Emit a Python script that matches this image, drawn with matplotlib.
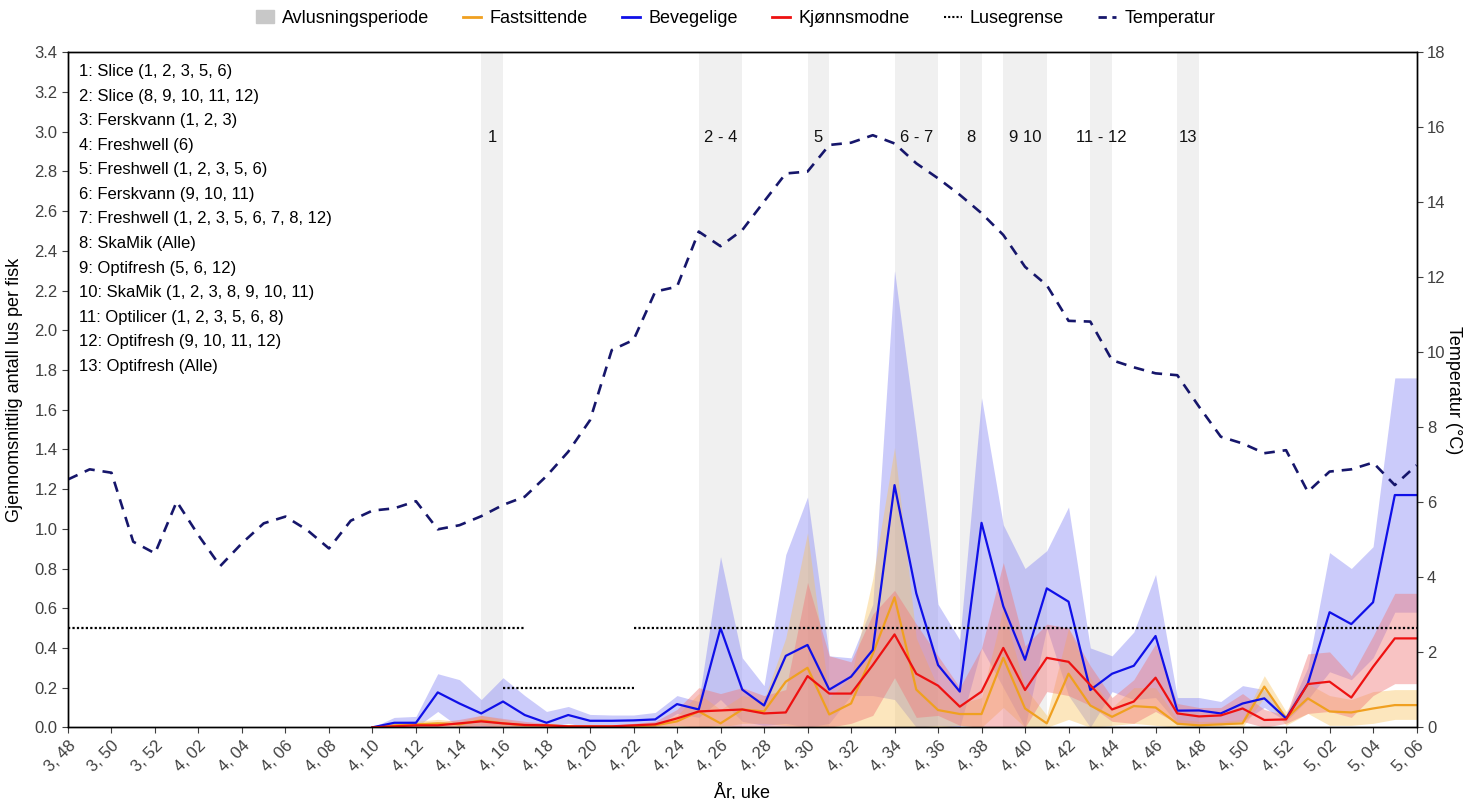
import numpy as np
import matplotlib.pyplot as plt
from matplotlib.lines import Line2D
from matplotlib.patches import Patch

plt.rcParams['font.family'] = ['Liberation Sans', 'DejaVu Sans']

# år og uke (kategorier langs x)
years = [3] * 5 + [4] * 52 + [5] * 6
weeks = list(range(48, 53)) + list(range(1, 53)) + list(range(1, 7))
week_labels = [f"{y}, {w:02d}" for y, w in zip(years, weeks)]

# ingen lusedata før uke 4,10
pad = [np.nan] * 14

fastsittende = pad + [
    0.0, 0.01, 0.015, 0.02, 0.015, 0.035, 0.02, 0.01, 0.01, 0.005,
    0.005, 0.005, 0.005, 0.01, 0.03, 0.08, 0.02, 0.09, 0.08, 0.23,
    0.30, 0.065, 0.12, 0.37, 0.655, 0.19, 0.087, 0.067, 0.067, 0.35,
    0.095, 0.02, 0.27, 0.11, 0.053, 0.107, 0.10, 0.018, 0.01, 0.015,
    0.02, 0.205, 0.045, 0.146, 0.08, 0.075, 0.095, 0.112, 0.112]
fastsittende_hi = pad + [
    0.0, 0.02, 0.03, 0.04, 0.03, 0.06, 0.04, 0.02, 0.02, 0.01,
    0.01, 0.01, 0.01, 0.02, 0.06, 0.17, 0.09, 0.16, 0.14, 0.45,
    0.98, 0.15, 0.25, 0.75, 1.41, 0.45, 0.20, 0.12, 0.15, 0.60,
    0.20, 0.06, 0.50, 0.25, 0.10, 0.20, 0.20, 0.04, 0.03, 0.03,
    0.04, 0.26, 0.08, 0.22, 0.16, 0.14, 0.18, 0.19, 0.19]
fastsittende_lo = pad + [
    0.0, 0.0, 0.0, 0.0, 0.0, 0.01, 0.0, 0.0, 0.0, 0.0,
    0.0, 0.0, 0.0, 0.0, 0.0, 0.0, 0.0, 0.02, 0.02, 0.01,
    0.0, 0.0, 0.0, 0.0, 0.0, 0.0, 0.0, 0.01, 0.0, 0.1,
    0.0, 0.0, 0.04, 0.0, 0.01, 0.02, 0.01, 0.0, 0.0, 0.0,
    0.0, 0.15, 0.01, 0.07, 0.01, 0.01, 0.02, 0.04, 0.04]

bevegelige = pad + [
    0.0, 0.023, 0.023, 0.176, 0.12, 0.07, 0.13, 0.062, 0.023, 0.062,
    0.033, 0.033, 0.035, 0.04, 0.117, 0.09, 0.50, 0.19, 0.11, 0.36,
    0.415, 0.19, 0.255, 0.39, 1.22, 0.675, 0.314, 0.18, 1.03, 0.61,
    0.34, 0.70, 0.633, 0.188, 0.27, 0.31, 0.46, 0.084, 0.085, 0.07,
    0.12, 0.146, 0.045, 0.22, 0.58, 0.52, 0.63, 1.17, 1.17]
bevegelige_hi = pad + [
    0.0, 0.05, 0.055, 0.27, 0.24, 0.14, 0.25, 0.16, 0.08, 0.105,
    0.065, 0.062, 0.062, 0.075, 0.16, 0.13, 0.86, 0.35, 0.21, 0.87,
    1.16, 0.36, 0.35, 0.62, 2.30, 1.48, 0.62, 0.44, 1.66, 1.02,
    0.80, 0.89, 1.11, 0.40, 0.36, 0.48, 0.77, 0.15, 0.15, 0.13,
    0.21, 0.19, 0.06, 0.30, 0.88, 0.80, 0.91, 1.76, 1.76]
bevegelige_lo = pad + [
    0.0, 0.0, 0.0, 0.08, 0.0, 0.0, 0.01, 0.0, 0.0, 0.02,
    0.0, 0.005, 0.008, 0.005, 0.07, 0.05, 0.14, 0.03, 0.01, 0.02,
    0.0, 0.02, 0.16, 0.16, 0.14, 0.0, 0.01, 0.0, 0.4, 0.2,
    0.0, 0.5, 0.16, 0.0, 0.18, 0.14, 0.15, 0.02, 0.02, 0.01,
    0.03, 0.1, 0.03, 0.14, 0.28, 0.24, 0.35, 0.58, 0.58]

kjonnsmodne = pad + [
    0.0, 0.005, 0.01, 0.01, 0.02, 0.03, 0.02, 0.012, 0.01, 0.005,
    0.005, 0.005, 0.01, 0.015, 0.045, 0.08, 0.085, 0.09, 0.07, 0.075,
    0.258, 0.17, 0.17, 0.314, 0.468, 0.27, 0.21, 0.104, 0.18, 0.40,
    0.188, 0.35, 0.33, 0.213, 0.09, 0.13, 0.25, 0.07, 0.055, 0.06,
    0.095, 0.037, 0.04, 0.218, 0.23, 0.15, 0.305, 0.448, 0.448]
kjonnsmodne_hi = pad + [
    0.0, 0.015, 0.02, 0.025, 0.04, 0.06, 0.045, 0.03, 0.02, 0.01,
    0.01, 0.01, 0.02, 0.03, 0.09, 0.20, 0.17, 0.20, 0.16, 0.19,
    0.73, 0.36, 0.33, 0.57, 0.69, 0.52, 0.36, 0.20, 0.40, 0.83,
    0.41, 0.52, 0.50, 0.31, 0.15, 0.24, 0.42, 0.12, 0.10, 0.10,
    0.17, 0.09, 0.06, 0.37, 0.38, 0.26, 0.46, 0.675, 0.675]
kjonnsmodne_lo = pad + [
    0.0, 0.0, 0.0, 0.0, 0.0, 0.005, 0.0, 0.0, 0.0, 0.0,
    0.0, 0.0, 0.0, 0.005, 0.01, 0.0, 0.01, 0.0, 0.0, 0.0,
    0.0, 0.0, 0.02, 0.06, 0.25, 0.05, 0.06, 0.01, 0.0, 0.0,
    0.0, 0.18, 0.16, 0.11, 0.03, 0.02, 0.08, 0.02, 0.01, 0.02,
    0.03, 0.0, 0.02, 0.07, 0.08, 0.05, 0.16, 0.22, 0.22]

temperatur = [
    6.61, 6.88, 6.79, 4.95, 4.64, 6.02, 5.12, 4.30, 4.91, 5.44,
    5.62, 5.26, 4.77, 5.51, 5.78, 5.84, 6.03, 5.28, 5.39, 5.63,
    5.93, 6.15, 6.7, 7.35, 8.19, 10.06, 10.33, 11.62, 11.75, 13.22,
    12.83, 13.26, 14.02, 14.77, 14.82, 15.53, 15.59, 15.79, 15.57, 15.04,
    14.64, 14.2, 13.71, 13.13, 12.28, 11.79, 10.84, 10.82, 9.79, 9.6,
    9.44, 9.39, 8.55, 7.75, 7.57, 7.31, 7.39, 6.28, 6.82, 6.88,
    7.06, 6.46, 6.99]

# lusegrense (to perioder med ulik grense)
lusegrense_a = [0.5] * 22 + [np.nan] * 4 + [0.5] * 37
lusegrense_b = [np.nan] * 20 + [0.2] * 7 + [np.nan] * 36

# avlusninger
avlus_fra = ['4, 15', '4, 25', '4, 30', '4, 34', '4, 37', '4, 39', '4, 43', '4, 47']
avlus_til = ['4, 16', '4, 27', '4, 31', '4, 36', '4, 38', '4, 41', '4, 44', '4, 48']
avlus_navn = ['1', '2 - 4', '5', '6 - 7', '8', '9 10', '11 - 12', '13']

behandlinger = ['1: Slice (1, 2, 3, 5, 6)',
                '2: Slice (8, 9, 10, 11, 12)',
                '3: Ferskvann (1, 2, 3)',
                '4: Freshwell (6)',
                '5: Freshwell (1, 2, 3, 5, 6)',
                '6: Ferskvann (9, 10, 11)',
                '7: Freshwell (1, 2, 3, 5, 6, 7, 8, 12)',
                '8: SkaMik (Alle)',
                '9: Optifresh (5, 6, 12)',
                '10: SkaMik (1, 2, 3, 8, 9, 10, 11)',
                '11: Optilicer (1, 2, 3, 5, 6, 8)',
                '12: Optifresh (9, 10, 11, 12)',
                '13: Optifresh (Alle)']

x = np.arange(len(week_labels))
idx = {lab: i for i, lab in enumerate(week_labels)}

fig = plt.figure(figsize=(14.71, 7.99), dpi=100)
ax = fig.add_axes([0.0462, 0.0897, 0.9168, 0.8448])
ax2 = ax.twinx()

for a, b, lab in zip(avlus_fra, avlus_til, avlus_navn):
    ax.axvspan(idx[a], idx[b], color='#f0f0f0', lw=0, zorder=0)
    ax.text((idx[a] + idx[b]) / 2, 2.97, lab, ha='center', va='center', fontsize=12, color='#111111')

ax.fill_between(x, bevegelige_lo, bevegelige_hi, color='#8c8cf5', alpha=0.45, lw=0, zorder=1)
ax.fill_between(x, fastsittende_lo, fastsittende_hi, color='#f9c25a', alpha=0.4, lw=0, zorder=1)
ax.fill_between(x, kjonnsmodne_lo, kjonnsmodne_hi, color='#f07a7a', alpha=0.45, lw=0, zorder=1)

ax.plot(x, fastsittende, color='#f0a020', lw=1.6, zorder=2)
ax.plot(x, bevegelige, color='#1010e8', lw=1.6, zorder=2)
ax.plot(x, kjonnsmodne, color='#ee1111', lw=1.6, zorder=2)
ax.plot(x, lusegrense_a, color='black', lw=1.6, ls=(0, (1, 1)), zorder=2)
ax.plot(x, lusegrense_b, color='black', lw=1.6, ls=(0, (1, 1)), zorder=2)

ax2.plot(x, temperatur, color='#16166b', lw=1.9, dashes=(4, 3))

for k, t in enumerate(behandlinger):
    ax.text(0.008, 0.982 - k * 0.0363, t, transform=ax.transAxes, ha='left', va='top', fontsize=12)

ax.set_xlim(0, len(x) - 1)
ax.set_ylim(0, 3.4)
ax2.set_ylim(0, 18)
ax.set_yticks(np.arange(0, 3.41, 0.2))
ax.set_yticklabels([f"{v:.1f}" for v in np.arange(0, 3.41, 0.2)])
ax2.set_yticks(np.arange(0, 19, 2))
ax.set_xticks(x[::2])
ax.set_xticklabels(week_labels[::2], rotation=45, ha='right', rotation_mode='anchor')

for a in (ax, ax2):
    a.tick_params(labelsize=12, labelcolor='#404040', color='#404040', length=4)
    for s in a.spines.values():
        s.set_color('black')
        s.set_linewidth(1.0)

ax.set_xlabel('År, uke', fontsize=13, labelpad=6)
ax.set_ylabel('Gjennomsnittlig antall lus per fisk', fontsize=13, labelpad=8)
ax2.set_ylabel('Temperatur (°C)', fontsize=13, rotation=270, labelpad=12)

handles = [Patch(color='#c8c8c8'),
           Line2D([], [], color='#f0a020', lw=2),
           Line2D([], [], color='#1010e8', lw=2),
           Line2D([], [], color='#ee1111', lw=2),
           Line2D([], [], color='black', lw=1.5, ls=(0, (1, 1))),
           Line2D([], [], color='#16166b', lw=2, dashes=(3, 2))]
labels = ['Avlusningsperiode', 'Fastsittende', 'Bevegelige', 'Kjønnsmodne', 'Lusegrense', 'Temperatur']
fig.legend(handles, labels, loc='upper center', bbox_to_anchor=(0.5, 1.008), ncol=6, frameon=False,
           fontsize=13, handlelength=1.0, handletextpad=0.45, columnspacing=1.9)

fig.savefig('out.png', dpi=100)
